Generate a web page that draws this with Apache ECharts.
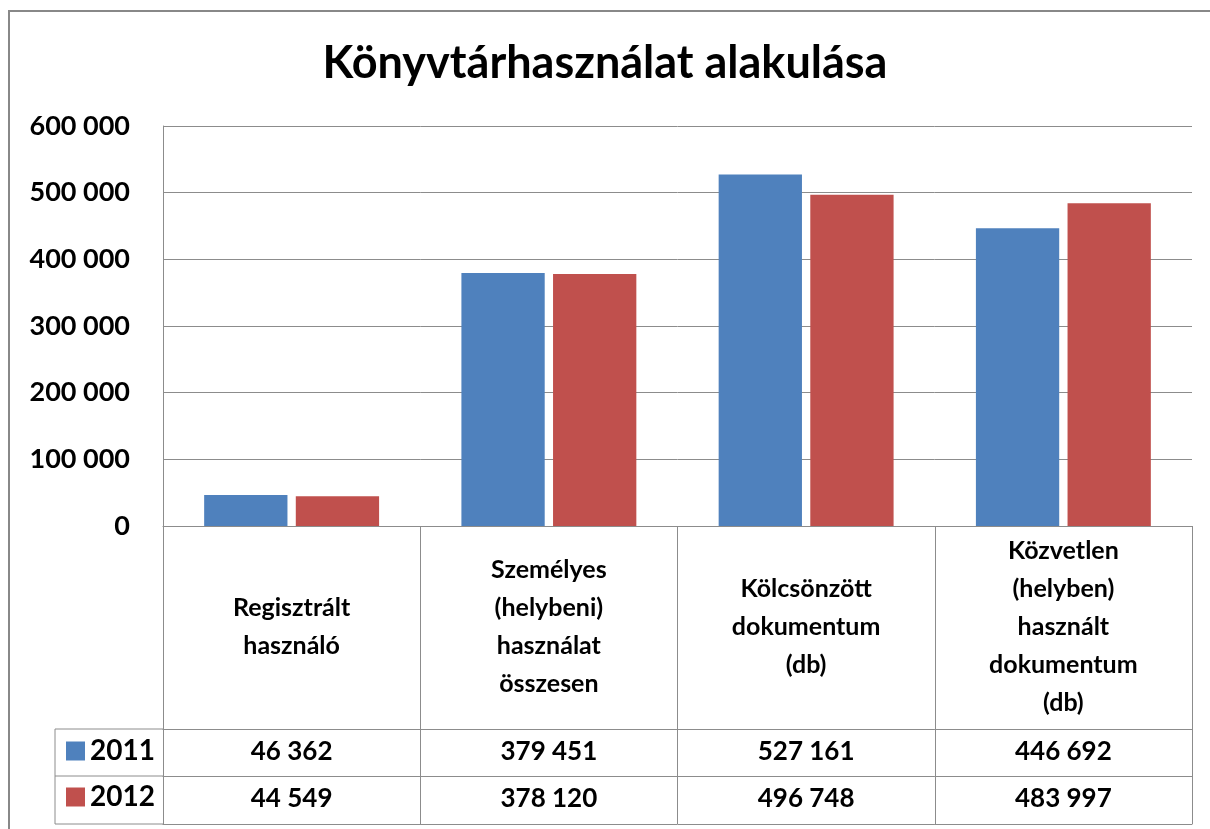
<!DOCTYPE html>
<html>
<head>
<meta charset="utf-8">
<script src="https://cdn.jsdelivr.net/npm/echarts@6/dist/echarts.min.js"></script>
<style>
  html, body { margin: 0; padding: 0; background: #fff; }
  #chart { width: 1210px; height: 829px; }
</style>
</head>
<body>
<div id="chart"></div>
<script>
// adatok
const categories = [
  'Regisztrált\nhasználó',
  'Személyes\n(helybeni)\nhasználat\nösszesen',
  'Kölcsönzött\ndokumentum\n(db)',
  'Közvetlen\n(helyben)\nhasznált\ndokumentum\n(db)'
];
const values2011 = [46362, 379451, 527161, 446692];
const values2012 = [44549, 378120, 496748, 483997];
const years = ['2011', '2012'];

const gray = '#8c8c8c';
const font = 'Lato, "Open Sans", sans-serif';

function fmt(v) {
  return String(v).replace(/\B(?=(\d{3})+(?!\d))/g, ' ');
}

let myChart = echarts.init(document.getElementById('chart'));
myChart.setOption({
  animation: false,
  textStyle: { fontFamily: font },
  title: {
    text: 'Könyvtárhasználat alakulása',
    left: 'center',
    top: 36,
    textStyle: { fontSize: 45, fontWeight: 'bold', color: '#000', fontFamily: font }
  },
  legend: {
    data: years,
    orient: 'vertical',
    left: 66,
    top: 737,
    padding: 0,
    itemWidth: 19,
    itemHeight: 19,
    itemGap: 18,
    icon: 'rect',
    selectedMode: false,
    textStyle: { fontSize: 28, lineHeight: 28, fontWeight: 'bold', color: '#000', fontFamily: font }
  },
  grid: { left: 163, right: 18, top: 126, height: 400 },
  xAxis: [
    {
      type: 'category',
      data: categories,
      position: 'bottom',
      axisLine: { lineStyle: { color: gray, width: 1 } },
      axisTick: { show: true, length: 298, interval: 0, lineStyle: { color: gray, width: 1 } },
      axisLabel: {
        interval: 0, margin: 101, verticalAlign: 'middle', lineHeight: 38,
        fontSize: 25, fontWeight: 'bold', color: '#000', fontFamily: font
      }
    },
    {
      type: 'category',
      data: categories,
      position: 'bottom',
      offset: 203,
      axisLine: { lineStyle: { color: gray, width: 1 } },
      axisTick: { show: false },
      axisLabel: {
        interval: 0, margin: 23, verticalAlign: 'middle',
        fontSize: 26, fontWeight: 'bold', color: '#000', fontFamily: font,
        formatter: (v, i) => fmt(values2011[i])
      }
    },
    {
      type: 'category',
      data: categories,
      position: 'bottom',
      offset: 250,
      axisLine: { lineStyle: { color: gray, width: 1 } },
      axisTick: { show: false },
      axisLabel: {
        interval: 0, margin: 23, verticalAlign: 'middle',
        fontSize: 26, fontWeight: 'bold', color: '#000', fontFamily: font,
        formatter: (v, i) => fmt(values2012[i])
      }
    },
    {
      type: 'category',
      data: categories,
      position: 'bottom',
      offset: 298,
      axisLine: { lineStyle: { color: gray, width: 1 } },
      axisTick: { show: false },
      axisLabel: { show: false }
    }
  ],
  yAxis: {
    type: 'value',
    min: 0,
    max: 600000,
    interval: 100000,
    axisLine: { show: true, lineStyle: { color: gray, width: 1 } },
    axisTick: { show: false },
    splitLine: { lineStyle: { color: gray, width: 1 } },
    axisLabel: {
      margin: 33, fontSize: 27, fontWeight: 'bold', color: '#000', fontFamily: font,
      formatter: v => fmt(v)
    }
  },
  graphic: [
    { type: 'rect', shape: { x: 9, y: 11, width: 1220, height: 840 }, style: { fill: null, stroke: '#888', lineWidth: 2 } },
    { type: 'line', shape: { x1: 55, y1: 729, x2: 163, y2: 729 }, style: { stroke: gray, lineWidth: 1 } },
    { type: 'line', shape: { x1: 55, y1: 776, x2: 163, y2: 776 }, style: { stroke: gray, lineWidth: 1 } },
    { type: 'line', shape: { x1: 55, y1: 824, x2: 163, y2: 824 }, style: { stroke: gray, lineWidth: 1 } },
    { type: 'line', shape: { x1: 55, y1: 729, x2: 55, y2: 824 }, style: { stroke: gray, lineWidth: 1 } }
  ],
  series: [
    {
      name: years[0], type: 'bar', data: values2011,
      barGap: '10%', barCategoryGap: '32%',
      itemStyle: { color: '#4f81bd' }
    },
    {
      name: years[1], type: 'bar', data: values2012,
      itemStyle: { color: '#c0504d' }
    }
  ]
});
</script>
</body>
</html>
